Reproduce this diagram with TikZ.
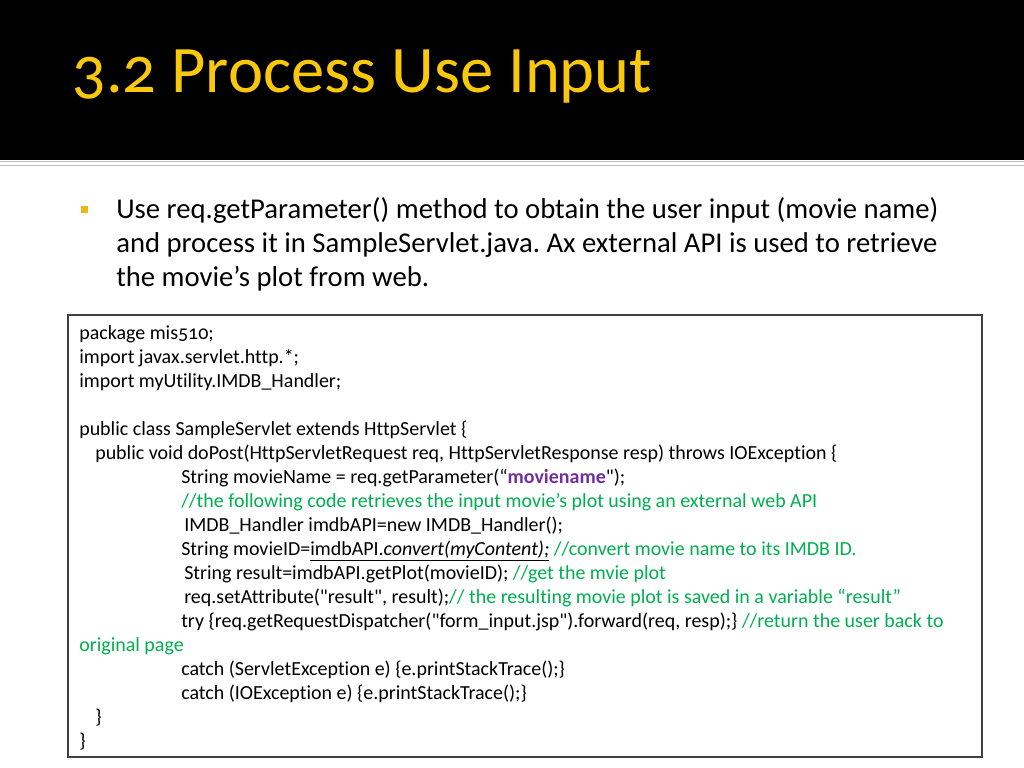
\documentclass[tikz,border=0pt]{standalone}
\usepackage{fontspec}
\setmainfont{Carlito}[Numbers=OldStyle, Ligatures={TeXOff,NoCommon}]
\frenchspacing

\definecolor{titlegold}{RGB}{250,200,10}
\definecolor{bulletgold}{RGB}{240,180,20}
\definecolor{commentgreen}{RGB}{0,176,80}
\definecolor{keypurple}{RGB}{112,48,160}
\definecolor{rulegray}{RGB}{190,190,190}

\tikzset{
  titletext/.style={anchor=base west, inner sep=0pt, text=titlegold,
    font=\fontsize{47.3}{56}\selectfont},
  bullettext/.style={anchor=base west, inner sep=0pt,
    font=\fontsize{20.4}{24}\selectfont},
  codeline/.style={anchor=base west, inner sep=0pt,
    font=\fontsize{14.2}{17}\selectfont},
}
\newcommand{\cmt}[1]{\textcolor{commentgreen}{#1}}

\begin{document}
\begin{tikzpicture}[x=0.025cm, y=-0.025cm]
  \useasboundingbox (0,0) rectangle (1024,768);
  \fill[white] (0,0) rectangle (1024,768);

  % header band
  \fill[black] (0,0) rectangle (1024,160);
  \draw[rulegray, line width=1.2pt] (0,161.5) -- (1024,161.5);
  \draw[rulegray, line width=1.2pt] (0,165.5) -- (1024,165.5);
  \node (title) at (72,93) [titletext] {3.2 Process Use Input};

  % bullet
  \fill[bulletgold] (81,206) rectangle (88,213);
  \node (b1) at (116,218) [bullettext] {Use req.getParameter() method to obtain the user input (movie name)};
  \node (b2) at (116,252) [bullettext] {and process it in SampleServlet.java. Ax external API is used to retrieve};
  \node (b3) at (116,286) [bullettext] {the movie’s plot from web.};

  % code box
  \draw[black!75, line width=1.1pt] (68,315) rectangle (982,757);
  \node (c1)  at (79,339) [codeline] {package mis510;};
  \node (c2)  at (79,363) [codeline] {import javax.servlet.http.*;};
  \node (c3)  at (79,387) [codeline] {import myUtility.IMDB\_Handler;};
  \node (c5)  at (79,435) [codeline] {public class SampleServlet extends HttpServlet \{};
  \node (c6)  at (95,459) [codeline] {public void doPost(HttpServletRequest req, HttpServletResponse resp) throws IOException \{};
  \node (c7)  at (181,483) [codeline] {String movieName = req.getParameter(“\textcolor{keypurple}{\textbf{moviename}}");};
  \node (c8)  at (181,507) [codeline] {\cmt{//the following code retrieves the input movie’s plot using an external web API}};
  \node (c9)  at (184,531) [codeline] {IMDB\_Handler imdbAPI=new IMDB\_Handler();};
  \node (c10) at (181,555) [codeline] {String movieID=\underline{imdbAPI.\textit{convert(myContent);}} \cmt{//convert movie name to its IMDB ID.}};
  \node (c11) at (184,579) [codeline] {String result=imdbAPI.getPlot(movieID); \cmt{//get the mvie plot}};
  \node (c12) at (184,603) [codeline] {req.setAttribute("result", result);\cmt{// the resulting movie plot is saved in a variable “result”}};
  \node (c13) at (181,627) [codeline] {try \{req.getRequestDispatcher("form\_input.jsp").forward(req, resp);\} \cmt{//return the user back to}};
  \node (c14) at (79,651) [codeline] {\cmt{original page}};
  \node (c15) at (181,675) [codeline] {catch (ServletException e) \{e.printStackTrace();\}};
  \node (c16) at (181,699) [codeline] {catch (IOException e) \{e.printStackTrace();\}};
  \node (c17) at (95,723) [codeline] {\}};
  \node (c18) at (79,747) [codeline] {\}};
\end{tikzpicture}
\end{document}
